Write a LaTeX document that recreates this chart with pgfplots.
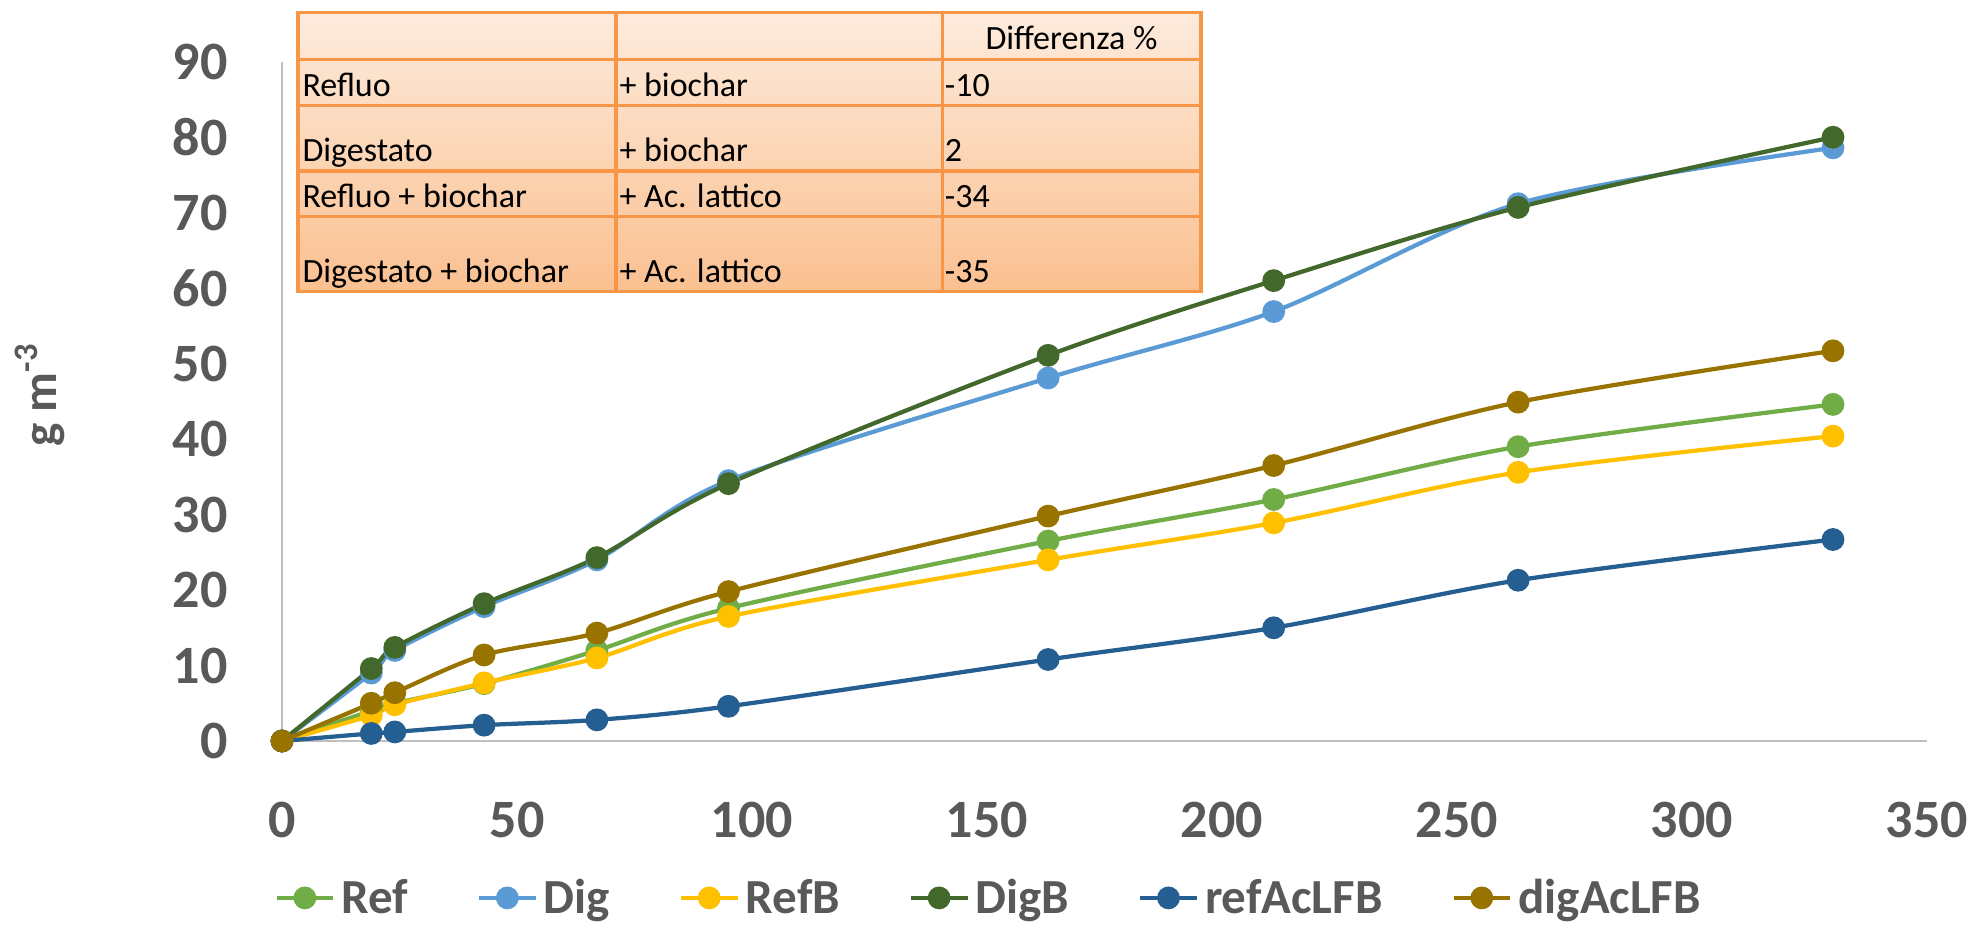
\documentclass[border=0pt]{standalone}
\usepackage{pgfplots}
\pgfplotsset{compat=1.18}
\usepackage{fontspec}
\setmainfont{Carlito}

\definecolor{cRef}{HTML}{70AD47}
\definecolor{cDig}{HTML}{5B9BD5}
\definecolor{cRefB}{HTML}{FFC000}
\definecolor{cDigB}{HTML}{43682B}
\definecolor{cRefAc}{HTML}{255E91}
\definecolor{cDigAc}{HTML}{997300}
\definecolor{tickgray}{HTML}{595959}
\definecolor{axisgray}{HTML}{BFBFBF}
\definecolor{tabborder}{HTML}{F79646}
\definecolor{tabtop}{HTML}{FDEBDD}
\definecolor{tabbot}{HTML}{FAC090}

\begin{document}
\begin{tikzpicture}
\useasboundingbox (0,0) rectangle (789.2pt,377.6pt);
\begin{axis}[
  at={(112.8pt,81.2pt)}, anchor=south west,
  scale only axis, width=658pt, height=271.7pt,
  xmin=0, xmax=350, ymin=0, ymax=90,
  clip=false,
  axis lines=left,
  axis line style={-, draw=axisgray, line width=1.1pt},
  xtick={0,50,...,350}, ytick={0,10,...,90},
  major tick length=0pt,
  tick label style={font=\fontsize{21.6}{24}\selectfont\bfseries, text=tickgray, inner sep=0pt},
  xticklabel style={anchor=north, yshift=-24.4pt},
  yticklabel style={anchor=east, xshift=-21.6pt},
  /pgf/number format/assume math mode=true,
  legend columns=6,
  legend style={at={(0.429,-0.231)}, anchor=center, draw=none, fill=none,
    font=\fontsize{19.6}{22}\selectfont\bfseries, text=tickgray,
    nodes={inner sep=0pt},
    /tikz/every odd column/.append style={column sep=2.5pt},
    /tikz/every even column/.append style={column sep=27.5pt}},
  legend image code/.code={\draw[mark repeat=2,mark phase=2,#1] plot coordinates {(0pt,0pt) (11.3pt,0pt) (22.6pt,0pt)};},
  every axis plot/.append style={smooth, line width=1.7pt, mark=*, mark size=3.7pt},
]
\addplot[color=cRef, mark options={fill=cRef, draw=cRef}] coordinates {
  (0,0) (19,4.0) (24,5.0) (43,7.6) (67,12.0) (95,17.6) (163,26.5) (211,32.0) (263,39.0) (330,44.6)};
\addlegendentry{Ref}
\addplot[color=cDig, mark options={fill=cDig, draw=cDig}] coordinates {
  (0,0) (19,9.0) (24,12.0) (43,17.8) (67,24.0) (95,34.5) (163,48.1) (211,56.9) (263,71.2) (330,78.6)};
\addlegendentry{Dig}
\addplot[color=cRefB, mark options={fill=cRefB, draw=cRefB}] coordinates {
  (0,0) (19,3.4) (24,4.8) (43,7.7) (67,11.0) (95,16.5) (163,24.0) (211,28.9) (263,35.6) (330,40.4)};
\addlegendentry{RefB}
\addplot[color=cDigB, mark options={fill=cDigB, draw=cDigB}] coordinates {
  (0,0) (19,9.6) (24,12.4) (43,18.2) (67,24.3) (95,34.1) (163,51.1) (211,61.0) (263,70.7) (330,80.0)};
\addlegendentry{DigB}
\addplot[color=cRefAc, mark options={fill=cRefAc, draw=cRefAc}] coordinates {
  (0,0) (19,1.0) (24,1.2) (43,2.1) (67,2.8) (95,4.6) (163,10.8) (211,15.0) (263,21.3) (330,26.7)};
\addlegendentry{refAcLFB}
\addplot[color=cDigAc, mark options={fill=cDigAc, draw=cDigAc}] coordinates {
  (0,0) (19,5.0) (24,6.4) (43,11.4) (67,14.3) (95,19.8) (163,29.8) (211,36.5) (263,44.9) (330,51.7)};
\addlegendentry{digAcLFB}
\end{axis}

% y axis title
\node[rotate=90, font=\fontsize{19.6}{22}\selectfont\bfseries, text=tickgray] at (16pt,219.6pt) {g m\textsuperscript{-3}};

% summary table of percentage differences
\begin{scope}[shift={(0pt,377.6pt)}, x=0.4pt, y=-0.4pt]
  \shade[top color=tabtop, bottom color=tabbot] (298,12.7) rectangle (1201,291.7);
  \begin{scope}[draw=tabborder, line width=1.3pt]
    \draw (298,12.7) rectangle (1201,291.7);
    \foreach \yy in {59.3,105.3,171,216.7} \draw (298,\yy) -- (1201,\yy);
    \draw (616,12.7) -- (616,291.7);
    \draw (942.5,12.7) -- (942.5,291.7);
  \end{scope}
  \begin{scope}[every node/.style={inner sep=0pt, font=\fontsize{13.6}{15}\selectfont, text=black}]
    \node[anchor=base] at (1071.5,49.3) {Differenza \%};
    \node[anchor=base west] at (302,96.7) {Refluo};
    \node[anchor=base west] at (619,96.7) {+ biochar};
    \node[anchor=base west] at (944.5,96.7) {-10};
    \node[anchor=base west] at (302,161.7) {Digestato};
    \node[anchor=base west] at (619,161.7) {+ biochar};
    \node[anchor=base west] at (944.5,161.7) {2};
    \node[anchor=base west] at (302,208) {Refluo + biochar};
    \node[anchor=base west] at (619,208) {+ Ac. lattico};
    \node[anchor=base west] at (944.5,208) {-34};
    \node[anchor=base west] at (302,282.7) {Digestato + biochar};
    \node[anchor=base west] at (619,282.7) {+ Ac. lattico};
    \node[anchor=base west] at (944.5,282.7) {-35};
  \end{scope}
\end{scope}
\end{tikzpicture}
\end{document}
